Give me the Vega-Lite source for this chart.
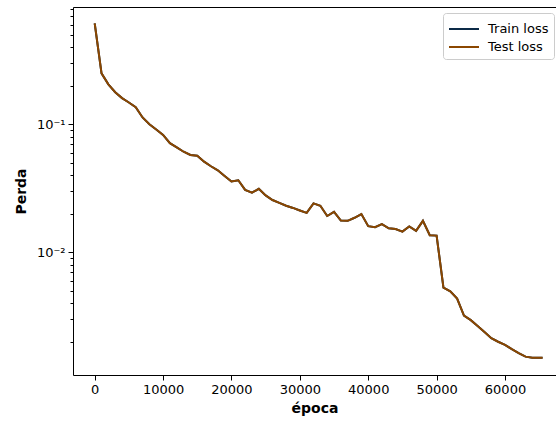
{
  "$schema": "https://vega.github.io/schema/vega-lite/v6.json",
  "autosize": "none",
  "padding": {"left": 73, "top": 7, "right": 0, "bottom": 54},
  "width": 483,
  "height": 368,
  "background": "white",
  "config": {
    "view": {"stroke": "#000", "strokeWidth": 1},
    "font": "DejaVu Sans",
    "axis": {"labelFont": "DejaVu Sans", "titleFont": "DejaVu Sans", "labelColor": "#000", "titleColor": "#000", "domainColor": "#000", "tickColor": "#000", "grid": false}
  },
  "data": {"values": [
    {"epoch": 0, "loss": 0.615, "series": "Train loss"},
    {"epoch": 1000, "loss": 0.25, "series": "Train loss"},
    {"epoch": 2000, "loss": 0.205, "series": "Train loss"},
    {"epoch": 3000, "loss": 0.178, "series": "Train loss"},
    {"epoch": 4000, "loss": 0.16, "series": "Train loss"},
    {"epoch": 5000, "loss": 0.148, "series": "Train loss"},
    {"epoch": 6000, "loss": 0.136, "series": "Train loss"},
    {"epoch": 7000, "loss": 0.113, "series": "Train loss"},
    {"epoch": 8000, "loss": 0.1, "series": "Train loss"},
    {"epoch": 9000, "loss": 0.091, "series": "Train loss"},
    {"epoch": 10000, "loss": 0.0825, "series": "Train loss"},
    {"epoch": 11000, "loss": 0.0711, "series": "Train loss"},
    {"epoch": 12000, "loss": 0.066, "series": "Train loss"},
    {"epoch": 13000, "loss": 0.061, "series": "Train loss"},
    {"epoch": 14000, "loss": 0.0575, "series": "Train loss"},
    {"epoch": 15000, "loss": 0.0568, "series": "Train loss"},
    {"epoch": 16000, "loss": 0.051, "series": "Train loss"},
    {"epoch": 17000, "loss": 0.047, "series": "Train loss"},
    {"epoch": 18000, "loss": 0.0437, "series": "Train loss"},
    {"epoch": 19000, "loss": 0.0395, "series": "Train loss"},
    {"epoch": 20000, "loss": 0.0357, "series": "Train loss"},
    {"epoch": 21000, "loss": 0.0365, "series": "Train loss"},
    {"epoch": 22000, "loss": 0.0307, "series": "Train loss"},
    {"epoch": 23000, "loss": 0.0292, "series": "Train loss"},
    {"epoch": 24000, "loss": 0.0313, "series": "Train loss"},
    {"epoch": 25000, "loss": 0.0278, "series": "Train loss"},
    {"epoch": 26000, "loss": 0.0256, "series": "Train loss"},
    {"epoch": 27000, "loss": 0.0243, "series": "Train loss"},
    {"epoch": 28000, "loss": 0.0231, "series": "Train loss"},
    {"epoch": 29000, "loss": 0.0222, "series": "Train loss"},
    {"epoch": 30000, "loss": 0.0212, "series": "Train loss"},
    {"epoch": 31000, "loss": 0.0203, "series": "Train loss"},
    {"epoch": 32000, "loss": 0.0241, "series": "Train loss"},
    {"epoch": 33000, "loss": 0.0231, "series": "Train loss"},
    {"epoch": 34000, "loss": 0.0192, "series": "Train loss"},
    {"epoch": 35000, "loss": 0.0207, "series": "Train loss"},
    {"epoch": 36000, "loss": 0.0177, "series": "Train loss"},
    {"epoch": 37000, "loss": 0.0176, "series": "Train loss"},
    {"epoch": 38000, "loss": 0.0186, "series": "Train loss"},
    {"epoch": 39000, "loss": 0.0199, "series": "Train loss"},
    {"epoch": 40000, "loss": 0.016, "series": "Train loss"},
    {"epoch": 41000, "loss": 0.0157, "series": "Train loss"},
    {"epoch": 42000, "loss": 0.0166, "series": "Train loss"},
    {"epoch": 43000, "loss": 0.0154, "series": "Train loss"},
    {"epoch": 44000, "loss": 0.0152, "series": "Train loss"},
    {"epoch": 45000, "loss": 0.0145, "series": "Train loss"},
    {"epoch": 46000, "loss": 0.0159, "series": "Train loss"},
    {"epoch": 47000, "loss": 0.0147, "series": "Train loss"},
    {"epoch": 48000, "loss": 0.0176, "series": "Train loss"},
    {"epoch": 49000, "loss": 0.0136, "series": "Train loss"},
    {"epoch": 50000, "loss": 0.0135, "series": "Train loss"},
    {"epoch": 51000, "loss": 0.0053, "series": "Train loss"},
    {"epoch": 52000, "loss": 0.00495, "series": "Train loss"},
    {"epoch": 53000, "loss": 0.00435, "series": "Train loss"},
    {"epoch": 54000, "loss": 0.0032, "series": "Train loss"},
    {"epoch": 55000, "loss": 0.00295, "series": "Train loss"},
    {"epoch": 56000, "loss": 0.00265, "series": "Train loss"},
    {"epoch": 57000, "loss": 0.00238, "series": "Train loss"},
    {"epoch": 58000, "loss": 0.00213, "series": "Train loss"},
    {"epoch": 59000, "loss": 0.002, "series": "Train loss"},
    {"epoch": 60000, "loss": 0.00189, "series": "Train loss"},
    {"epoch": 61000, "loss": 0.00175, "series": "Train loss"},
    {"epoch": 62000, "loss": 0.00163, "series": "Train loss"},
    {"epoch": 63000, "loss": 0.00153, "series": "Train loss"},
    {"epoch": 64000, "loss": 0.0015, "series": "Train loss"},
    {"epoch": 65500, "loss": 0.0015, "series": "Train loss"},
    {"epoch": 0, "loss": 0.615, "series": "Test loss"},
    {"epoch": 1000, "loss": 0.25, "series": "Test loss"},
    {"epoch": 2000, "loss": 0.205, "series": "Test loss"},
    {"epoch": 3000, "loss": 0.178, "series": "Test loss"},
    {"epoch": 4000, "loss": 0.16, "series": "Test loss"},
    {"epoch": 5000, "loss": 0.148, "series": "Test loss"},
    {"epoch": 6000, "loss": 0.136, "series": "Test loss"},
    {"epoch": 7000, "loss": 0.113, "series": "Test loss"},
    {"epoch": 8000, "loss": 0.1, "series": "Test loss"},
    {"epoch": 9000, "loss": 0.091, "series": "Test loss"},
    {"epoch": 10000, "loss": 0.0825, "series": "Test loss"},
    {"epoch": 11000, "loss": 0.0711, "series": "Test loss"},
    {"epoch": 12000, "loss": 0.066, "series": "Test loss"},
    {"epoch": 13000, "loss": 0.061, "series": "Test loss"},
    {"epoch": 14000, "loss": 0.0575, "series": "Test loss"},
    {"epoch": 15000, "loss": 0.0568, "series": "Test loss"},
    {"epoch": 16000, "loss": 0.051, "series": "Test loss"},
    {"epoch": 17000, "loss": 0.047, "series": "Test loss"},
    {"epoch": 18000, "loss": 0.0437, "series": "Test loss"},
    {"epoch": 19000, "loss": 0.0395, "series": "Test loss"},
    {"epoch": 20000, "loss": 0.0357, "series": "Test loss"},
    {"epoch": 21000, "loss": 0.0365, "series": "Test loss"},
    {"epoch": 22000, "loss": 0.0307, "series": "Test loss"},
    {"epoch": 23000, "loss": 0.0292, "series": "Test loss"},
    {"epoch": 24000, "loss": 0.0313, "series": "Test loss"},
    {"epoch": 25000, "loss": 0.0278, "series": "Test loss"},
    {"epoch": 26000, "loss": 0.0256, "series": "Test loss"},
    {"epoch": 27000, "loss": 0.0243, "series": "Test loss"},
    {"epoch": 28000, "loss": 0.0231, "series": "Test loss"},
    {"epoch": 29000, "loss": 0.0222, "series": "Test loss"},
    {"epoch": 30000, "loss": 0.0212, "series": "Test loss"},
    {"epoch": 31000, "loss": 0.0203, "series": "Test loss"},
    {"epoch": 32000, "loss": 0.0241, "series": "Test loss"},
    {"epoch": 33000, "loss": 0.0231, "series": "Test loss"},
    {"epoch": 34000, "loss": 0.0192, "series": "Test loss"},
    {"epoch": 35000, "loss": 0.0207, "series": "Test loss"},
    {"epoch": 36000, "loss": 0.0177, "series": "Test loss"},
    {"epoch": 37000, "loss": 0.0176, "series": "Test loss"},
    {"epoch": 38000, "loss": 0.0186, "series": "Test loss"},
    {"epoch": 39000, "loss": 0.0199, "series": "Test loss"},
    {"epoch": 40000, "loss": 0.016, "series": "Test loss"},
    {"epoch": 41000, "loss": 0.0157, "series": "Test loss"},
    {"epoch": 42000, "loss": 0.0166, "series": "Test loss"},
    {"epoch": 43000, "loss": 0.0154, "series": "Test loss"},
    {"epoch": 44000, "loss": 0.0152, "series": "Test loss"},
    {"epoch": 45000, "loss": 0.0145, "series": "Test loss"},
    {"epoch": 46000, "loss": 0.0159, "series": "Test loss"},
    {"epoch": 47000, "loss": 0.0147, "series": "Test loss"},
    {"epoch": 48000, "loss": 0.0176, "series": "Test loss"},
    {"epoch": 49000, "loss": 0.0136, "series": "Test loss"},
    {"epoch": 50000, "loss": 0.0135, "series": "Test loss"},
    {"epoch": 51000, "loss": 0.0053, "series": "Test loss"},
    {"epoch": 52000, "loss": 0.00495, "series": "Test loss"},
    {"epoch": 53000, "loss": 0.00435, "series": "Test loss"},
    {"epoch": 54000, "loss": 0.0032, "series": "Test loss"},
    {"epoch": 55000, "loss": 0.00295, "series": "Test loss"},
    {"epoch": 56000, "loss": 0.00265, "series": "Test loss"},
    {"epoch": 57000, "loss": 0.00238, "series": "Test loss"},
    {"epoch": 58000, "loss": 0.00213, "series": "Test loss"},
    {"epoch": 59000, "loss": 0.002, "series": "Test loss"},
    {"epoch": 60000, "loss": 0.00189, "series": "Test loss"},
    {"epoch": 61000, "loss": 0.00175, "series": "Test loss"},
    {"epoch": 62000, "loss": 0.00163, "series": "Test loss"},
    {"epoch": 63000, "loss": 0.00153, "series": "Test loss"},
    {"epoch": 64000, "loss": 0.0015, "series": "Test loss"},
    {"epoch": 65500, "loss": 0.0015, "series": "Test loss"}
  ]},
  "layer": [
    {
      "transform": [{"filter": "datum.series === 'Train loss'"}],
      "mark": {"type": "line", "strokeWidth": 2},
      "encoding": {
        "x": {"field": "epoch", "type": "quantitative",
          "scale": {"domain": [-3173, 67460], "nice": false, "zero": false},
          "axis": {"values": [0, 10000, 20000, 30000, 40000, 50000, 60000], "format": "d", "title": "época", "titleFontWeight": "bold", "titleFontSize": 14, "labelFontSize": 13, "tickSize": 5, "labelPadding": 3, "titlePadding": 5, "labelFlush": false, "domain": false}},
        "y": {"field": "loss", "type": "quantitative",
          "scale": {"type": "log", "domain": [0.0011, 0.824], "nice": false},
          "axis": {"values": [0.002, 0.003, 0.004, 0.005, 0.006, 0.007, 0.008, 0.009, 0.01, 0.02, 0.03, 0.04, 0.05, 0.06, 0.07, 0.08, 0.09, 0.1, 0.2, 0.3, 0.4, 0.5, 0.6, 0.7, 0.8],
            "labelExpr": "datum.value == 0.1 ? '10⁻¹' : (datum.value == 0.01 ? '10⁻²' : '')",
            "tickSize": {"condition": {"test": "datum.value == 0.1 || datum.value == 0.01", "value": 5}, "value": 3},
            "title": "Perda", "titleFontWeight": "bold", "titleFontSize": 14, "labelFontSize": 13, "labelPadding": 3, "titlePadding": 8, "labelFlush": false, "domain": false}},
        "color": {"field": "series", "type": "nominal",
          "scale": {"domain": ["Train loss", "Test loss"], "range": ["#0c2a47", "#8b4700"]},
          "legend": {"title": null, "orient": "none", "legendX": 370, "legendY": 6, "symbolType": "M-1,0H2", "symbolSize": 400, "symbolStrokeWidth": 2, "labelFontSize": 13, "labelFont": "DejaVu Sans", "labelColor": "#000", "strokeColor": "#cccccc", "fillColor": "white", "cornerRadius": 3, "padding": 5, "rowPadding": 0, "labelOffset": 18}}
      }
    },
    {
      "transform": [{"filter": "datum.series === 'Test loss'"}],
      "mark": {"type": "line", "strokeWidth": 2},
      "encoding": {
        "x": {"field": "epoch", "type": "quantitative"},
        "y": {"field": "loss", "type": "quantitative"},
        "color": {"field": "series", "type": "nominal"}
      }
    }
  ]
}
